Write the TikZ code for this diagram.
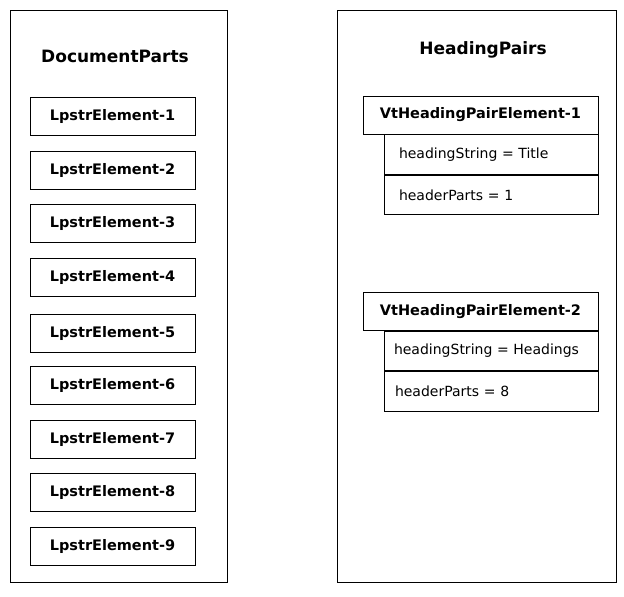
\documentclass[tikz,border=0pt]{standalone}
\usepackage{fontspec}
\setmainfont{DejaVu Sans}
\usetikzlibrary{positioning}
\begin{document}
\begin{tikzpicture}[x=1pt,y=-1pt]
      \tikzset{
        every node/.style={line width=0.8pt},
        panel/.style={draw,anchor=north west,inner sep=0pt},
        lpstr/.style={draw,minimum width=165pt,minimum height=38pt,
          inner sep=0pt,font=\bfseries\fontsize{14.5}{16}\selectfont},
        vthead/.style={draw,minimum width=235pt,minimum height=38pt,
          inner sep=0pt,font=\bfseries\fontsize{14.5}{16}\selectfont},
        field/.style={draw,minimum width=214pt,minimum height=39.5pt,
          inner sep=0pt,text width=214pt,align=left,
          font=\fontsize{14}{16}\selectfont}
      }
      \useasboundingbox (0,0) rectangle (624,597);
      \node[panel,minimum width=217pt,minimum height=572pt] (docparts) at (10,10) {};
      \node[panel,minimum width=279pt,minimum height=572pt] (headpairs) at (337,10) {};
      \node[font=\bfseries\fontsize{17}{19}\selectfont] (doctitle) at (115,56) {DocumentParts};
      \node[font=\bfseries\fontsize{17}{19}\selectfont] (headtitle) at (483,50) {HeadingPairs};
      % lpstr elements
      \foreach \i/\y in {1/116,2/170,3/223,4/277,5/333,6/385,7/439,8/492,9/546}
        \node[lpstr] (lpstr\i) at (112.5,\y) {LpstrElement-\i};
      % heading pair elements
      \node[vthead] (vt1) at (480.5,115) {VtHeadingPairElement-1};
      \node[field,anchor=north east] (str1) at (vt1.south east) {\hspace*{15pt}headingString = Title};
      \node[field,anchor=north] (parts1) at (str1.south) {\hspace*{15pt}headerParts = 1};
      \node[vthead] (vt2) at (480.5,311.5) {VtHeadingPairElement-2};
      \node[field,anchor=north east] (str2) at (vt2.south east) {\hspace*{10pt}headingString = Headings};
      \node[field,anchor=north] (parts2) at (str2.south) {\hspace*{11pt}headerParts = 8};
\end{tikzpicture}
\end{document}
